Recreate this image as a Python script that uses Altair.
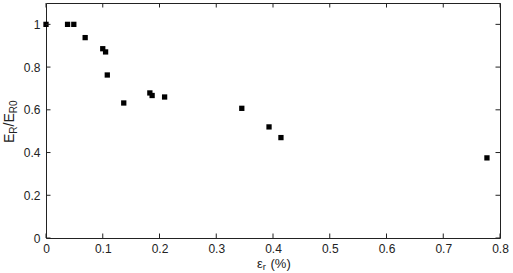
import altair as alt
import pandas as pd

strain = [0.0, 0.038, 0.049, 0.069, 0.100, 0.105, 0.108, 0.137, 0.183, 0.187, 0.209, 0.345, 0.393, 0.414, 0.777]
ratio = [1.0, 1.0, 1.0, 0.938, 0.886, 0.871, 0.763, 0.632, 0.679, 0.667, 0.660, 0.607, 0.520, 0.470, 0.375]
x_ticks = [0, 0.1, 0.2, 0.3, 0.4, 0.5, 0.6, 0.7, 0.8]
y_ticks = [0, 0.2, 0.4, 0.6, 0.8, 1.0]

W, H = 454, 235
FONT = "Liberation Sans"
TC = "#222222"

df = pd.DataFrame({"x": strain, "y": ratio})
xt = pd.DataFrame({"x": x_ticks})
yt = pd.DataFrame({"y": y_ticks})
one = pd.DataFrame({"a": [0]})

xs = alt.Scale(domain=[0, 0.8], nice=False, zero=False)
ys = alt.Scale(domain=[0, 1.1], nice=False, zero=False)

xaxis = alt.Axis(values=x_ticks, ticks=False, domain=False, grid=False, title=None,
                 labelFont=FONT, labelFontSize=12, labelColor=TC, labelPadding=5,
                 format="~g", labelFlush=False)
yaxis = alt.Axis(values=y_ticks, ticks=False, domain=False, grid=False, title=None,
                 labelFont=FONT, labelFontSize=12, labelColor=TC, labelPadding=6,
                 format="~g")

pts = alt.Chart(df).mark_square(size=28, color="black", opacity=1).encode(
    x=alt.X("x:Q", scale=xs, axis=xaxis),
    y=alt.Y("y:Q", scale=ys, axis=yaxis),
)

tl = 4.5
tick_style = dict(color="#222222", strokeWidth=1)
bt = alt.Chart(xt).mark_rule(**tick_style).encode(x=alt.X("x:Q", scale=xs), y=alt.value(H), y2=alt.value(H - tl))
tt = alt.Chart(xt).mark_rule(**tick_style).encode(x=alt.X("x:Q", scale=xs), y=alt.value(0), y2=alt.value(tl))
lt = alt.Chart(yt).mark_rule(**tick_style).encode(y=alt.Y("y:Q", scale=ys), x=alt.value(0), x2=alt.value(tl))
rt = alt.Chart(yt).mark_rule(**tick_style).encode(y=alt.Y("y:Q", scale=ys), x=alt.value(W), x2=alt.value(W - tl))


def txt(s, x, y, size, angle=0, align="left"):
    return alt.Chart(one).mark_text(font=FONT, fontSize=size, color=TC, align=align,
                                    baseline="alphabetic", angle=angle).encode(
        x=alt.value(x), y=alt.value(y), text=alt.value(s))

# y title: E_R / E_R0 rotated
bx, sx = -32.5, -29
y0 = 140
parts = []
cur = y0
parts.append(txt("E", bx, cur, 14, 270)); cur -= 9.3
parts.append(txt("R", sx, cur, 10, 270)); cur -= 7.3
parts.append(txt("/", bx, cur, 14, 270)); cur -= 3.9
parts.append(txt("E", bx, cur, 14, 270)); cur -= 9.3
parts.append(txt("R0", sx, cur, 10, 270))

# x title: eps_r (%)
xb = 264.5
x0 = 211
parts.append(txt("ε", x0, xb, 13))
parts.append(txt("r", x0 + 5.8, xb + 2.5, 9.5))
parts.append(txt("(%)", x0 + 13.5, xb, 13))

chart = alt.layer(pts, bt, tt, lt, rt, *parts).properties(
    width=W, height=H,
    autosize=alt.AutoSizeParams(type="none"),
    padding={"left": 46, "top": 3, "right": 13, "bottom": 35},
    background="white",
).configure_view(stroke="#222222", strokeWidth=1)

chart.save("out.html", embed_options={"renderer": "svg", "actions": False})
